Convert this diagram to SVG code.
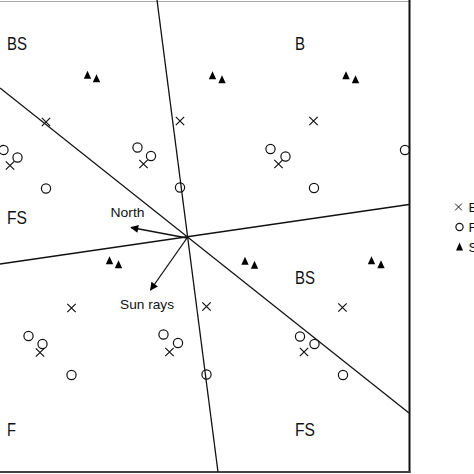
<svg xmlns="http://www.w3.org/2000/svg" xmlns:xlink="http://www.w3.org/1999/xlink" width="474" height="474" viewBox="0 0 474 474">
<style>
.ln{stroke:#111;stroke-width:1.3;fill:none}
.mk{stroke:#111;stroke-width:1.2;fill:none}
.tri{fill:#000;stroke:none}
.lbl{font-family:"Liberation Sans",Arial,sans-serif;font-size:17.5px;fill:#111}
.sm{font-family:"Liberation Sans",Arial,sans-serif;font-size:13.5px;fill:#111}
</style>
<defs>
<g id="x"><path class="mk" d="M-4.2,-4.2L4.2,4.2M-4.2,4.2L4.2,-4.2"/></g>
<g id="o"><circle class="mk" r="4.6"/></g>
<g id="t"><path class="tri" d="M0,-4.3L3.7,3.8L-3.7,3.8Z"/></g>
<marker id="ah" viewBox="0 0 10 10" refX="9" refY="5" markerWidth="10" markerHeight="8" markerUnits="userSpaceOnUse" orient="auto">
<path d="M0,0L10,5L0,10Z" fill="#000"/>
</marker>
</defs>
<rect width="474" height="474" fill="#fff"/>
<g id="frame">
<line x1="0" y1="1.5" x2="409" y2="1.5" stroke="#aaa" stroke-width="1.2"/>
<line x1="409.5" y1="0" x2="409.5" y2="473" stroke="#111" stroke-width="2"/>
<line x1="0" y1="472" x2="410.5" y2="472" stroke="#444" stroke-width="2.2"/>
</g>
<g id="connectors">
<line class="ln" x1="157" y1="0" x2="218" y2="472"/>
<line class="ln" x1="0" y1="88" x2="409" y2="413"/>
<line class="ln" x1="0" y1="264" x2="409" y2="204.5"/>
<line class="ln" x1="187" y1="238" x2="131" y2="227.5" marker-end="url(#ah)"/>
<line class="ln" x1="187" y1="238" x2="150.5" y2="290" marker-end="url(#ah)"/>
</g>
<g id="markers">
<use xlink:href="#t" x="87.5" y="75"/><use xlink:href="#t" x="96.5" y="78.5"/>
<use xlink:href="#t" x="212.5" y="75.5"/><use xlink:href="#t" x="222" y="79.5"/>
<use xlink:href="#t" x="346" y="75.5"/><use xlink:href="#t" x="355.5" y="79.5"/>
<use xlink:href="#t" x="109.5" y="260.5"/><use xlink:href="#t" x="118.5" y="264.5"/>
<use xlink:href="#t" x="245" y="261"/><use xlink:href="#t" x="254.5" y="265"/>
<use xlink:href="#t" x="371.5" y="260.5"/><use xlink:href="#t" x="381" y="264.5"/>
<use xlink:href="#x" x="46" y="122"/>
<use xlink:href="#x" x="180" y="121"/>
<use xlink:href="#x" x="313.5" y="121"/>
<use xlink:href="#x" x="10" y="165.5"/>
<use xlink:href="#x" x="143.5" y="164"/>
<use xlink:href="#x" x="278.5" y="164"/>
<use xlink:href="#x" x="71.5" y="308"/>
<use xlink:href="#x" x="206.5" y="306.5"/>
<use xlink:href="#x" x="342.5" y="307.5"/>
<use xlink:href="#x" x="40" y="352.5"/>
<use xlink:href="#x" x="169.5" y="352"/>
<use xlink:href="#x" x="304" y="352"/>
<use xlink:href="#o" x="3.5" y="150"/>
<use xlink:href="#o" x="17.5" y="157.5"/>
<use xlink:href="#o" x="137.5" y="147.5"/>
<use xlink:href="#o" x="151" y="156"/>
<use xlink:href="#o" x="270.5" y="149"/>
<use xlink:href="#o" x="285.5" y="156.5"/>
<use xlink:href="#o" x="405" y="150"/>
<use xlink:href="#o" x="46" y="188.5"/>
<use xlink:href="#o" x="180" y="187.5"/>
<use xlink:href="#o" x="314" y="188"/>
<use xlink:href="#o" x="28.5" y="336"/>
<use xlink:href="#o" x="42.5" y="344"/>
<use xlink:href="#o" x="163.5" y="334.5"/>
<use xlink:href="#o" x="178" y="343"/>
<use xlink:href="#o" x="300" y="336.5"/>
<use xlink:href="#o" x="314.5" y="344"/>
<use xlink:href="#o" x="71.5" y="375"/>
<use xlink:href="#o" x="206.5" y="374.5"/>
<use xlink:href="#o" x="343" y="375"/>
</g>
<g id="labels">
<text class="lbl" x="7" y="49.5" textLength="20" lengthAdjust="spacingAndGlyphs">BS</text>
<text class="lbl" x="295" y="49.5" textLength="10" lengthAdjust="spacingAndGlyphs">B</text>
<text class="lbl" x="7" y="223.5" textLength="20" lengthAdjust="spacingAndGlyphs">FS</text>
<text class="lbl" x="295" y="283.5" textLength="20" lengthAdjust="spacingAndGlyphs">BS</text>
<text class="lbl" x="7" y="435.5" textLength="9" lengthAdjust="spacingAndGlyphs">F</text>
<text class="lbl" x="295" y="435.5" textLength="20" lengthAdjust="spacingAndGlyphs">FS</text>
<text class="sm" x="110.5" y="216.5" textLength="34" lengthAdjust="spacingAndGlyphs">North</text>
<text class="sm" x="120" y="308.5" textLength="54" lengthAdjust="spacingAndGlyphs">Sun rays</text>
</g>
<g id="legend">
<use xlink:href="#x" x="458.5" y="207" transform="translate(458.5 207) scale(0.8) translate(-458.5 -207)"/>
<circle class="mk" cx="459.5" cy="227" r="3.6"/>
<path class="tri" d="M459.5,242.5L463,250.5L456,250.5Z"/>
<text class="sm" x="468.5" y="212">B</text>
<text class="sm" x="468.5" y="232">F</text>
<text class="sm" x="468.5" y="252">S</text>
</g>
</svg>
